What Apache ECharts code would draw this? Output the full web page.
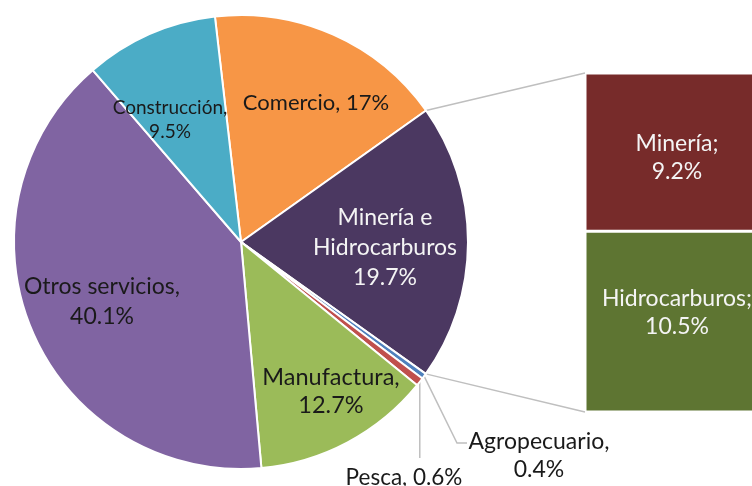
<!DOCTYPE html>
<html><head><meta charset="utf-8">
<script src="https://cdn.jsdelivr.net/npm/echarts@6/dist/echarts.min.js"></script>
<style>html,body{margin:0;padding:0;background:#fff}#c{width:752px;height:486px}</style>
</head><body><div id="c"></div>
<script>
// ---- data ----
const sectors = ['Comercio', 'Minería e Hidrocarburos', 'Agropecuario', 'Pesca', 'Manufactura', 'Otros servicios', 'Construcción'];
const sectorLabels = ['Comercio, ', 'Minería e\nHidrocarburos\n', 'Agropecuario,\n', 'Pesca, ', 'Manufactura,\n', 'Otros servicios,\n', 'Construcción,\n'];
const sectorValues = [17, 19.7, 0.4, 0.6, 12.7, 40.1, 9.5];
const subSectors = ['Minería', 'Hidrocarburos'];
const subValues = [9.2, 10.5];

// ---- styles ----
const FONT = 'Lato';
const sectorColors = ['#F79646', '#4B3861', '#4F81BD', '#C0504D', '#9BBB59', '#8064A2', '#4BACC6'];
const labelColors = ['#1a1a1a', '#f4f4f4', '#1a1a1a', '#1a1a1a', '#1a1a1a', '#1a1a1a', '#1a1a1a'];
const labelPos = [[316, 103], [385, 248], [539, 456], [404, 478], [331, 391], [102, 302], [170, 120]];
const labelSize = [22, 23, 23, 22.5, 23.5, 23, 19];
const labelLH = [30, 30, 28, 28, 28, 30, 24];
const subColors = ['#772B2A', '#5E7532'];
const subLabelOffset = [[0, 5], [0, -9]];

const cx = 241, cy = 242, R = 227, startDeg = 96.6;
const gridLeft = 585, gridTop = 73, gridWidth = 184, gridHeight = 339;

const chart = echarts.init(document.getElementById('c'), null, { renderer: 'canvas' });

const pieData = sectors.map((n, i) => ({
  name: n,
  value: sectorValues[i],
  itemStyle: { color: sectorColors[i] },
  label: {
    position: (i === 2 || i === 3) ? 'outside' : 'inside',
    color: labelColors[i],
    fontSize: labelSize[i],
    lineHeight: labelLH[i]
  },
  labelLine: { show: (i === 2 || i === 3) }
}));

const subTotal = subValues.reduce((a, b) => a + b, 0);
const barSeries = [1, 0].map(k => ({
  type: 'bar',
  name: subSectors[k],
  stack: 'sub',
  xAxisIndex: 0, yAxisIndex: 0,
  barWidth: '100%',
  data: [subValues[k]],
  itemStyle: { color: subColors[k], borderColor: '#fff', borderWidth: 1.5 },
  label: {
    show: true, position: 'inside', color: '#f4f4f4', fontFamily: FONT, fontSize: 23, lineHeight: 28,
    offset: subLabelOffset[k],
    formatter: p => p.seriesName + ';\n' + p.value + '%'
  },
  silent: true
}));

chart.setOption({
  animation: false,
  backgroundColor: '#fff',
  textStyle: { fontFamily: FONT },
  grid: { left: gridLeft, top: gridTop, width: gridWidth, height: gridHeight, outerBoundsMode: 'none', containLabel: false },
  xAxis: { type: 'category', data: ['sub'], show: false },
  yAxis: { type: 'value', min: 0, max: subTotal, show: false },
  series: [
    {
      type: 'pie',
      center: [cx, cy],
      radius: R,
      startAngle: startDeg,
      clockwise: true,
      avoidLabelOverlap: false,
      silent: true,
      itemStyle: { borderColor: '#fff', borderWidth: 2 },
      label: {
        show: true, fontFamily: FONT,
        formatter: p => sectorLabels[p.dataIndex] + p.value + '%'
      },
      labelLine: { lineStyle: { color: '#BFBFBF', width: 1.5 }, length: 10, length2: 10, smooth: false },
      labelLayout: function (p) {
        const i = p.dataIndex;
        const r = { x: labelPos[i][0], y: labelPos[i][1], align: 'center', verticalAlign: 'middle' };
        if (p.labelLinePoints) {
          const s = p.labelLinePoints[0];
          if (i === 2) r.labelLinePoints = [s, [457, 443], [467, 443]];
          if (i === 3) r.labelLinePoints = [s, [s[0], 458], [s[0], 458]];
        }
        return r;
      },
      data: pieData
    }
  ].concat(barSeries)
});

// connector lines from the split slice to the bar
const total = sectorValues.reduce((a, b) => a + b, 0);
function edgePoint(cum) {
  const a = (startDeg - cum / total * 360) * Math.PI / 180;
  return [cx + R * Math.cos(a), cy - R * Math.sin(a)];
}
const mIdx = 1;
const cumStart = sectorValues.slice(0, mIdx).reduce((a, b) => a + b, 0);
const cumEnd = cumStart + sectorValues[mIdx];
const p1 = edgePoint(cumStart), p2 = edgePoint(cumEnd);
const yTop = chart.convertToPixel({ yAxisIndex: 0 }, subTotal);
const yBot = chart.convertToPixel({ yAxisIndex: 0 }, 0);
chart.setOption({
  graphic: [
    { type: 'line', shape: { x1: p1[0], y1: p1[1], x2: gridLeft, y2: yTop }, style: { stroke: '#BFBFBF', lineWidth: 1.5 }, silent: true, z: 0 },
    { type: 'line', shape: { x1: p2[0], y1: p2[1], x2: gridLeft, y2: yBot }, style: { stroke: '#BFBFBF', lineWidth: 1.5 }, silent: true, z: 0 }
  ]
});
</script></body></html>
